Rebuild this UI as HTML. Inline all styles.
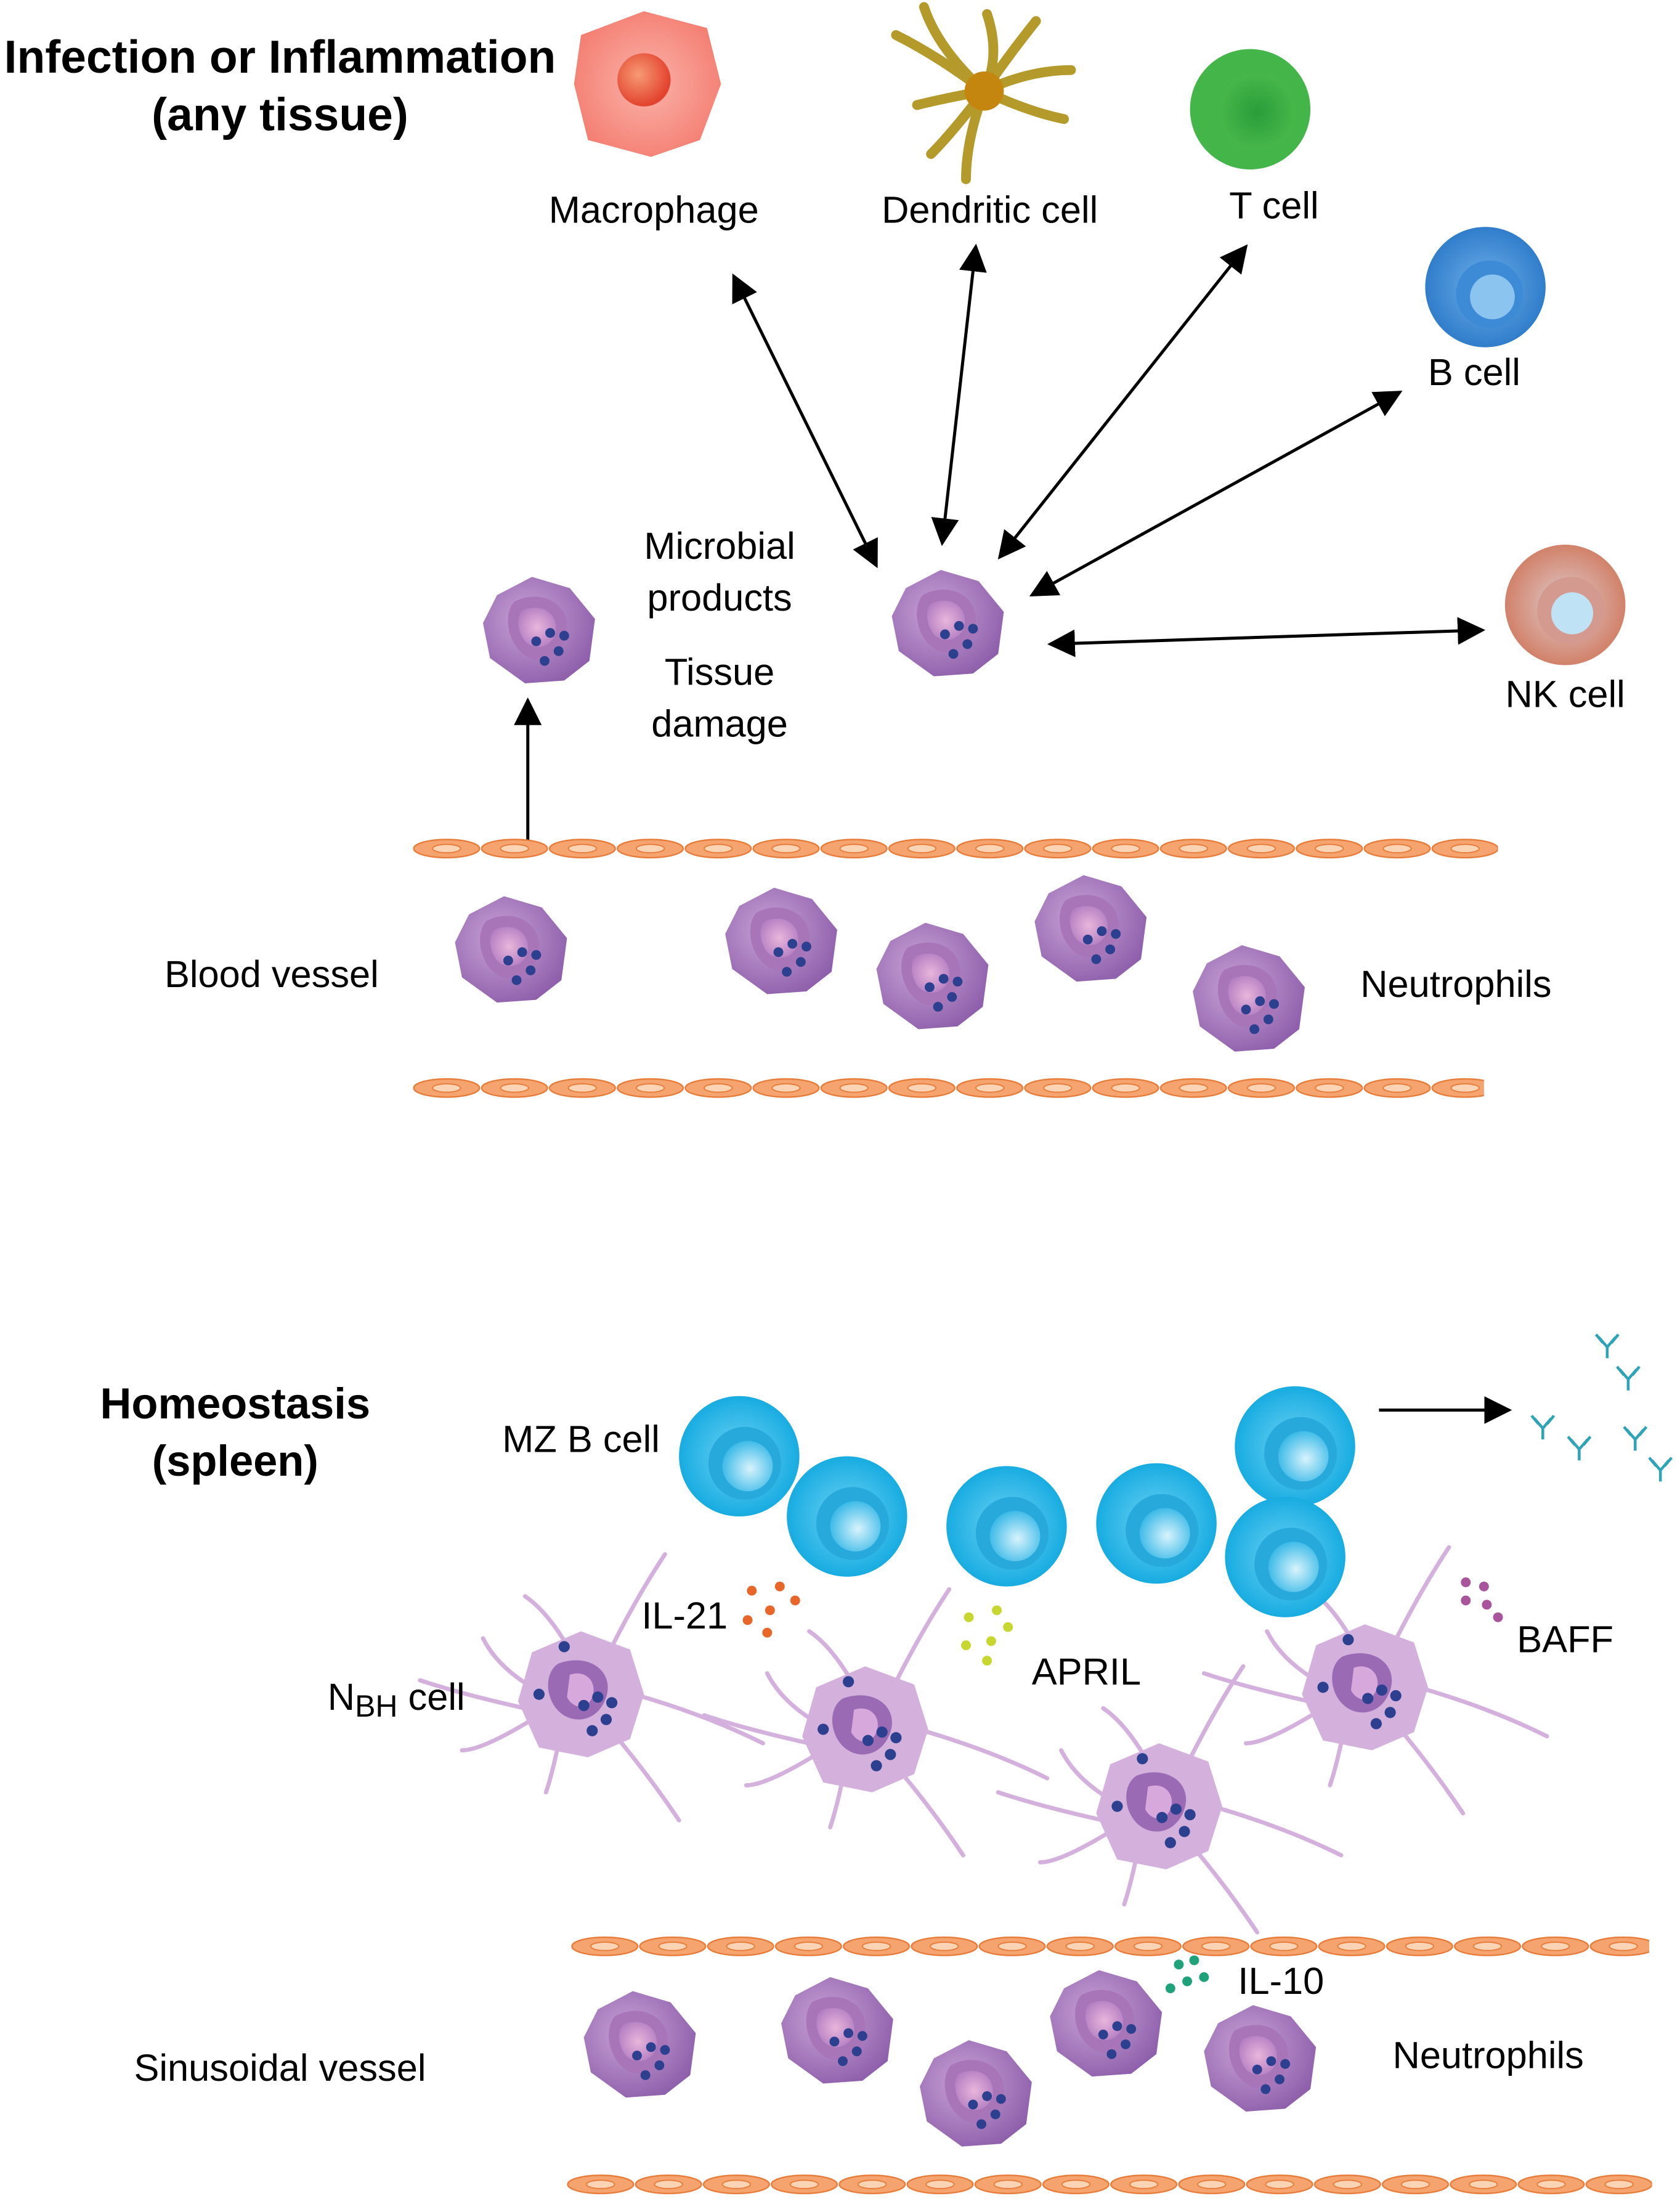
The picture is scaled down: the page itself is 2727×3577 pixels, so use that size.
<!DOCTYPE html>
<html><head><meta charset="utf-8"><style>html,body{margin:0;padding:0;background:#fff}svg{display:block}</style></head>
<body>
<svg xmlns="http://www.w3.org/2000/svg" width="2727" height="3577" viewBox="0 0 1200 1574" font-family="Liberation Sans, sans-serif">
<defs>
<radialGradient id="pur" cx="40%" cy="40%" r="70%"><stop offset="0" stop-color="#c9a3d6"/><stop offset="1" stop-color="#8a5aa8"/></radialGradient>
<radialGradient id="nuc" cx="50%" cy="50%" r="60%"><stop offset="0" stop-color="#e8b6dc"/><stop offset="1" stop-color="#b07ac0"/></radialGradient>
<radialGradient id="cy" cx="50%" cy="50%" r="55%"><stop offset="0" stop-color="#6fd3f5"/><stop offset="1" stop-color="#0fa8df"/></radialGradient>
<radialGradient id="cyi" cx="55%" cy="55%" r="55%"><stop offset="0" stop-color="#d8f3fd"/><stop offset="1" stop-color="#3fbbe8"/></radialGradient>
<radialGradient id="bl" cx="50%" cy="50%" r="55%"><stop offset="0" stop-color="#6fb0ea"/><stop offset="1" stop-color="#2a78c8"/></radialGradient>
<radialGradient id="gr" cx="50%" cy="50%" r="55%"><stop offset="0" stop-color="#2a9d3a"/><stop offset="1" stop-color="#49b94a"/></radialGradient>
<radialGradient id="nk" cx="50%" cy="50%" r="55%"><stop offset="0" stop-color="#b8e0f5"/><stop offset="0.45" stop-color="#d9a79c"/><stop offset="1" stop-color="#d07a60"/></radialGradient>
<radialGradient id="mac" cx="50%" cy="50%" r="55%"><stop offset="0" stop-color="#fbb3aa"/><stop offset="1" stop-color="#f47e72"/></radialGradient>
<radialGradient id="macn" cx="40%" cy="40%" r="60%"><stop offset="0" stop-color="#f79a74"/><stop offset="1" stop-color="#e2422e"/></radialGradient>
<pattern id="ves" x="0" y="0" width="48.5" height="16" patternUnits="userSpaceOnUse">
<ellipse cx="24" cy="8" rx="23.5" ry="6.5" fill="#f5a46f" stroke="#e77a37" stroke-width="1"/>
<ellipse cx="24" cy="8" rx="10" ry="3" fill="#fbd3b5" stroke="#e77a37" stroke-width="0.8"/>
</pattern>
<g id="neu">
<path d="M-30,-25 L-5,-38 L22,-30 L40,-8 L36,22 L18,36 L-10,38 L-35,20 L-40,-5 Z" fill="url(#pur)"/>
<path d="M-18,-20 C0,-30 22,-20 20,0 C18,20 0,25 -10,18 C-22,10 -26,-10 -18,-20 Z" fill="#a876b8"/>
<path d="M-12,-14 C2,-20 14,-12 12,2 C8,14 -4,14 -10,8 C-16,0 -16,-10 -12,-14 Z" fill="url(#nuc)"/>
<circle cx="-2" cy="8" r="3.5" fill="#2d3f8f"/><circle cx="8" cy="2" r="3.5" fill="#2d3f8f"/><circle cx="18" cy="4" r="3.5" fill="#2d3f8f"/>
<circle cx="14" cy="15" r="3.5" fill="#2d3f8f"/><circle cx="4" cy="22" r="3.5" fill="#2d3f8f"/>
</g>
<g id="nbh">
<g fill="none" stroke="#d3b1dc" stroke-width="3" stroke-linecap="round">
<path d="M-35,-5 Q-60,-20 -70,-40"/><path d="M-30,15 Q-70,40 -85,40"/><path d="M-15,30 Q-20,55 -25,70"/><path d="M25,30 Q50,60 70,90"/><path d="M38,0 Q90,15 130,35"/><path d="M20,-30 Q40,-70 60,-100"/><path d="M-10,-35 Q-25,-60 -40,-70"/><path d="M-40,10 Q-85,0 -115,-10"/>
</g>
<path d="M-35,-30 L0,-45 L35,-32 L45,0 L35,32 L5,45 L-30,38 L-45,5 Z" fill="#d3b1dc"/>
<path d="M-16,-22 C6,-30 24,-16 18,2 C12,20 -6,22 -16,12 C-26,2 -26,-16 -16,-22 Z" fill="#9a6ab4"/>
<path d="M-8,-14 C4,-18 12,-8 8,2 C4,12 -6,10 -10,2 Z" fill="#d6a8dc"/>
<circle cx="2" cy="8" r="4" fill="#2d3f8f"/><circle cx="12" cy="2" r="4" fill="#2d3f8f"/><circle cx="22" cy="6" r="4" fill="#2d3f8f"/><circle cx="18" cy="18" r="4" fill="#2d3f8f"/><circle cx="8" cy="26" r="4" fill="#2d3f8f"/><circle cx="-30" cy="0" r="4" fill="#2d3f8f"/><circle cx="-12" cy="-34" r="4" fill="#2d3f8f"/>
</g>
<g id="mz"><circle r="43" fill="url(#cy)"/><circle cx="4" cy="5" r="26" fill="#27a9dc"/><circle cx="6" cy="7" r="18" fill="url(#cyi)"/></g>
<g id="ab" stroke="#2fa3b8" stroke-width="2" fill="none"><path d="M0,0 L0,8 M0,0 L-6,-7 M0,0 L6,-7 M-3,-3 L-8,-9 M3,-3 L8,-9"/></g>
<marker id="ah" viewBox="0 0 10 10" refX="9" refY="5" markerWidth="9" markerHeight="9" orient="auto-start-reverse"><path d="M0,0 L10,5 L0,10 Z" fill="#000"/></marker>
</defs>

<text x="200" y="52" font-size="33" font-weight="bold" text-anchor="middle">Infection or Inflammation</text>
<text x="200" y="93" font-size="33" font-weight="bold" text-anchor="middle">(any tissue)</text>

<path d="M415,25 L460,8 L505,20 L515,60 L500,100 L465,112 L420,100 L410,60 Z" fill="url(#mac)"/>
<circle cx="460" cy="57" r="19" fill="url(#macn)"/>
<text x="467" y="159" font-size="27" text-anchor="middle">Macrophage</text>

<g stroke="#b49a2a" stroke-width="7" stroke-linecap="round" fill="none">
<path d="M703,65 Q670,40 640,25"/><path d="M703,65 Q670,35 660,5"/><path d="M703,65 Q715,40 705,10"/><path d="M703,65 Q720,40 740,15"/><path d="M703,65 Q735,50 765,50"/><path d="M703,65 Q735,80 760,85"/><path d="M703,65 Q690,100 690,128"/><path d="M703,65 Q680,95 665,110"/><path d="M703,65 Q675,70 655,75"/>
</g>
<circle cx="703" cy="65" r="14" fill="#c4860f"/>
<text x="707" y="159" font-size="27" text-anchor="middle">Dendritic cell</text>

<circle cx="893" cy="78" r="43" fill="#44b549"/><circle cx="898" cy="80" r="27" fill="url(#gr)"/>
<text x="910" y="156" font-size="27" text-anchor="middle">T  cell</text>
<circle cx="1061" cy="205" r="43" fill="url(#bl)"/><circle cx="1064" cy="210" r="24" fill="#3d8ad6"/><circle cx="1066" cy="212" r="16" fill="#8cc4f0"/>
<text x="1053" y="275" font-size="27" text-anchor="middle">B  cell</text>
<circle cx="1118" cy="432" r="43" fill="url(#nk)"/><circle cx="1122" cy="436" r="24" fill="#d49a90"/><circle cx="1123" cy="438" r="15" fill="#bfe2f5"/>
<text x="1118" y="505" font-size="27" text-anchor="middle">NK  cell</text>

<g stroke="#000" stroke-width="2.2" marker-start="url(#ah)" marker-end="url(#ah)">
<line x1="524" y1="197" x2="626" y2="404"/>
<line x1="697" y1="176" x2="673" y2="388"/>
<line x1="890" y1="176" x2="714" y2="398"/>
<line x1="1000" y1="280" x2="737" y2="425"/>
<line x1="1059" y1="450" x2="750" y2="460"/>
</g>
<line x1="377" y1="607" x2="377" y2="500" stroke="#000" stroke-width="2.2" marker-end="url(#ah)"/>

<use href="#neu" x="677" y="445"/>
<use href="#neu" x="385" y="450"/>
<text x="514" y="399" font-size="27" text-anchor="middle">Microbial</text>
<text x="514" y="436" font-size="27" text-anchor="middle">products</text>
<text x="514" y="489" font-size="27" text-anchor="middle">Tissue</text>
<text x="514" y="526" font-size="27" text-anchor="middle">damage</text>

<g transform="translate(295,598)"><rect width="775" height="16" fill="url(#ves)"/></g>
<g transform="translate(295,769)"><rect width="765" height="16" fill="url(#ves)"/></g>
<use href="#neu" x="365" y="678"/><use href="#neu" x="558" y="672"/><use href="#neu" x="666" y="697"/><use href="#neu" x="779" y="663"/><use href="#neu" x="892" y="713"/>
<text x="194" y="705" font-size="27" text-anchor="middle">Blood vessel</text>
<text x="1040" y="712" font-size="27" text-anchor="middle">Neutrophils</text>

<text x="168" y="1013" font-size="31" font-weight="bold" text-anchor="middle">Homeostasis</text>
<text x="168" y="1054" font-size="31" font-weight="bold" text-anchor="middle">(spleen)</text>
<text x="415" y="1037" font-size="27" text-anchor="middle">MZ B cell</text>

<use href="#nbh" x="415" y="1210"/><use href="#nbh" x="618" y="1235"/><use href="#nbh" x="828" y="1290"/><use href="#nbh" x="975" y="1205"/>

<use href="#mz" x="528" y="1040"/><use href="#mz" x="605" y="1083"/><use href="#mz" x="719" y="1090"/><use href="#mz" x="826" y="1088"/><use href="#mz" x="925" y="1033"/><use href="#mz" x="918" y="1112"/>

<line x1="985" y1="1007" x2="1078" y2="1007" stroke="#000" stroke-width="2.2" marker-end="url(#ah)"/>
<use href="#ab" x="1148" y="962"/><use href="#ab" x="1163" y="985"/><use href="#ab" x="1102" y="1020"/><use href="#ab" x="1128" y="1035"/><use href="#ab" x="1168" y="1028"/><use href="#ab" x="1186" y="1050"/>

<g fill="#e8662a"><circle cx="537" cy="1136" r="3.5"/><circle cx="557" cy="1133" r="3.5"/><circle cx="568" cy="1143" r="3.5"/><circle cx="550" cy="1150" r="3.5"/><circle cx="534" cy="1157" r="3.5"/><circle cx="548" cy="1166" r="3.5"/></g>
<text x="489" y="1163" font-size="27" text-anchor="middle">IL-21</text>
<g fill="#c8d630"><circle cx="692" cy="1155" r="3.5"/><circle cx="712" cy="1150" r="3.5"/><circle cx="720" cy="1162" r="3.5"/><circle cx="708" cy="1172" r="3.5"/><circle cx="690" cy="1175" r="3.5"/><circle cx="705" cy="1186" r="3.5"/></g>
<text x="776" y="1203" font-size="27" text-anchor="middle">APRIL</text>
<g fill="#a8559c"><circle cx="1047" cy="1130" r="3.5"/><circle cx="1060" cy="1133" r="3.5"/><circle cx="1047" cy="1143" r="3.5"/><circle cx="1062" cy="1146" r="3.5"/><circle cx="1070" cy="1155" r="3.5"/></g>
<text x="1118" y="1180" font-size="27" text-anchor="middle">BAFF</text>
<text x="234" y="1221" font-size="27">N<tspan font-size="22" dy="5">BH</tspan><tspan dy="-5"> cell</tspan></text>

<g transform="translate(408,1382)"><rect width="770" height="16" fill="url(#ves)"/></g>
<g transform="translate(405,1552)"><rect width="775" height="16" fill="url(#ves)"/></g>
<g fill="#1fa27a"><circle cx="842" cy="1403" r="3.5"/><circle cx="853" cy="1400" r="3.5"/><circle cx="860" cy="1412" r="3.5"/><circle cx="848" cy="1415" r="3.5"/><circle cx="836" cy="1420" r="3.5"/></g>
<text x="915" y="1424" font-size="27" text-anchor="middle">IL-10</text>
<use href="#neu" x="457" y="1460"/><use href="#neu" x="598" y="1450"/><use href="#neu" x="697" y="1495"/><use href="#neu" x="790" y="1445"/><use href="#neu" x="900" y="1470"/>
<text x="200" y="1486" font-size="27" text-anchor="middle">Sinusoidal vessel</text>
<text x="1063" y="1477" font-size="27" text-anchor="middle">Neutrophils</text>
</svg>
</body></html>
